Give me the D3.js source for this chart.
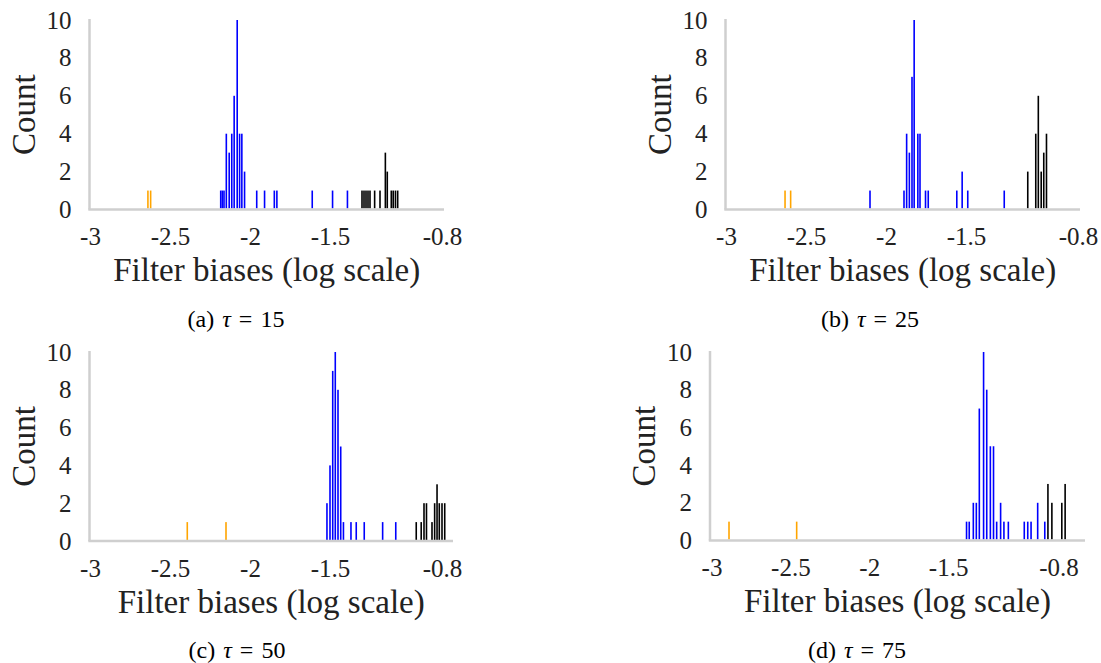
<!DOCTYPE html>
<html lang="en">
<head>
<meta charset="UTF-8">
<title>Filter biases histograms</title>
<script src="https://d3js.org/d3.v7.min.js"></script>
<style>
  body { margin: 0; background: #fff; }
  svg text { font-family: "Liberation Serif", "DejaVu Serif", serif; }
</style>
</head>
<body>
<svg id="fig" width="1101" height="663"></svg>
<script>
// axis ticks
const xTicks = [-3, -2.5, -2, -1.5, -0.8];
const yTicks = [0, 2, 4, 6, 8, 10];
const taus = [15, 25, 50, 75];

// [log bias, count] per colour group
const lowA = [[-2.638, 1], [-2.621, 1]];
const midA = [[-2.183, 1], [-2.173, 1], [-2.1625, 1], [-2.148, 4], [-2.130, 3], [-2.114, 4],
  [-2.099, 6], [-2.080, 10], [-2.065, 4], [-2.051, 4], [-2.034, 2], [-1.958, 1], [-1.909, 1],
  [-1.848, 1], [-1.832, 1], [-1.611, 1], [-1.484, 1], [-1.391, 1]];
const highA = [[-1.300, 1], [-1.2875, 1], [-1.275, 1], [-1.2625, 1], [-1.250, 1], [-1.221, 1],
  [-1.1875, 1], [-1.154, 3], [-1.142, 2], [-1.117, 1], [-1.105, 1], [-1.091, 1], [-1.077, 1]];

const lowB = [[-2.631, 1], [-2.596, 1]];
const midB = [[-2.100, 1], [-1.8875, 1], [-1.871, 4], [-1.854, 3], [-1.8375, 7], [-1.824, 10],
  [-1.801, 4], [-1.7875, 4], [-1.753, 1], [-1.736, 1], [-1.5575, 1], [-1.524, 2], [-1.489, 1],
  [-1.261, 1]];
const highB = [[-1.114, 2], [-1.064, 4], [-1.048, 6], [-1.030, 2], [-1.014, 3], [-0.997, 4]];

const lowC = [[-2.392, 1], [-2.150, 1]];
const midC = [[-1.519, 2], [-1.500, 4], [-1.483, 9], [-1.467, 10], [-1.450, 8], [-1.433, 5],
  [-1.416, 1], [-1.369, 1], [-1.336, 1], [-1.286, 1], [-1.171, 1], [-1.089, 1]];
const highC = [[-0.961, 1], [-0.930, 1], [-0.9125, 2], [-0.897, 2], [-0.8625, 1], [-0.846, 2],
  [-0.831, 3], [-0.817, 2], [-0.800, 2], [-0.783, 2]];

const lowD = [[-2.889, 1], [-2.460, 1]];
const midD = [[-1.383, 1], [-1.366, 1], [-1.340, 2], [-1.321, 2], [-1.302, 7], [-1.275, 10],
  [-1.255, 8], [-1.232, 5], [-1.212, 5], [-1.192, 1], [-1.167, 2], [-1.146, 1], [-1.118, 1],
  [-1.017, 1], [-0.995, 1], [-0.974, 1], [-0.932, 2], [-0.887, 1]];
const highD = [[-0.867, 3], [-0.842, 2], [-0.779, 2], [-0.758, 3]];

const panels = [
  { tag: "a", tau: taus[0], low: lowA, mid: midA, high: highA,
    x3: 90, x08: 442, axisX: 89.5, xEnd: 444, yTop: 20, yBase: 209.5, capX: 236, capY: 327 },
  { tag: "b", tau: taus[1], low: lowB, mid: midB, high: highB,
    x3: 726, x08: 1078, axisX: 725.5, xEnd: 1080, yTop: 20, yBase: 209.5, capX: 870, capY: 327 },
  { tag: "c", tau: taus[2], low: lowC, mid: midC, high: highC,
    x3: 90, x08: 442, axisX: 89.5, xEnd: 453, yTop: 352, yBase: 541, capX: 237, capY: 658 },
  { tag: "d", tau: taus[3], low: lowD, mid: midD, high: highD,
    x3: 711.5, x08: 1058.5, axisX: 710, xEnd: 1085, yTop: 352, yBase: 540.5, capX: 857, capY: 658 }
];

const colors = { low: "#ffa500", mid: "#0000ff", high: "#000000" };
const barW = 1.6;
const serif = "'Liberation Serif', 'DejaVu Serif', serif";
const svg = d3.select("#fig");

panels.forEach(p => {
  const x = d3.scaleLinear().domain([-3, -0.8]).range([p.x3, p.x08]);
  const y = d3.scaleLinear().domain([0, 10]).range([p.yBase, p.yTop]);
  const g = svg.append("g");

  // bars
  ["low", "mid", "high"].forEach(k => {
    g.selectAll(".bar-" + k)
      .data(p[k])
      .enter()
      .append("rect")
      .attr("class", "bar-" + k)
      .attr("x", d => x(d[0]) - barW / 2)
      .attr("y", d => y(d[1]))
      .attr("width", barW)
      .attr("height", d => y(0) - y(d[1]) - 1)
      .attr("fill", colors[k]);
  });

  // axis lines
  g.append("line")
    .attr("x1", p.axisX).attr("x2", p.axisX)
    .attr("y1", p.yTop - 1).attr("y2", p.yBase)
    .attr("stroke", "#cfcfcf").attr("stroke-width", 2.5);
  g.append("line")
    .attr("x1", p.axisX - 1.2).attr("x2", p.xEnd)
    .attr("y1", p.yBase).attr("y2", p.yBase)
    .attr("stroke", "#cfcfcf").attr("stroke-width", 2.5);

  // y ticks
  const ya = g.append("g")
    .attr("transform", `translate(${p.axisX},0)`)
    .call(d3.axisLeft(y).tickValues(yTicks).tickSize(0).tickPadding(18));
  ya.select(".domain").remove();
  ya.attr("font-family", serif).attr("font-size", 25);
  ya.selectAll("text").attr("fill", "#222").attr("font-family", serif);

  // x ticks
  const xa = g.append("g")
    .attr("transform", `translate(0,${p.yBase})`)
    .call(d3.axisBottom(x).tickValues(xTicks).tickSize(0).tickPadding(18).tickFormat(d => String(d)));
  xa.select(".domain").remove();
  xa.attr("font-family", serif).attr("font-size", 25);
  xa.selectAll("text").attr("fill", "#222").attr("font-family", serif);

  // axis titles
  g.append("text")
    .attr("x", (p.axisX + p.xEnd) / 2)
    .attr("y", p.yBase + 71.5)
    .attr("text-anchor", "middle")
    .attr("font-family", serif)
    .attr("font-size", 33)
    .attr("fill", "#222")
    .text("Filter biases (log scale)");
  g.append("text")
    .attr("transform", `translate(${p.axisX - 55},${(p.yTop + p.yBase) / 2}) rotate(-90)`)
    .attr("text-anchor", "middle")
    .attr("font-family", serif)
    .attr("font-size", 33)
    .attr("fill", "#222")
    .text("Count");

  // caption
  const cap = g.append("text")
    .attr("x", p.capX)
    .attr("y", p.capY)
    .attr("text-anchor", "middle")
    .attr("font-family", serif)
    .attr("font-size", 24)
    .attr("fill", "#000");
  cap.append("tspan").text(`(${p.tag})\u2004`);
  cap.append("tspan").attr("font-style", "italic").text("τ");
  cap.append("tspan").text(`\u2004=\u2004${p.tau}`);
});
</script>
</body>
</html>
